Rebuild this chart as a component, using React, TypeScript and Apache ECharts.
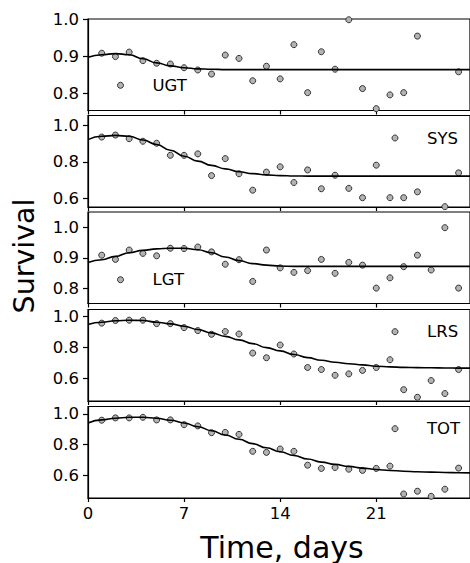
import React, { useEffect, useRef } from "react";
import * as echarts from "echarts";

// Observation days
const days = [1, 2, 3, 4, 5, 6, 7, 8, 9, 10, 11, 12, 13, 14, 15, 16, 17, 18, 19, 20, 21, 22, 23, 24, 25, 26, 27];
// Days at which the fitted curve is read
const fitDays = [0, 1, 2, 3, 4, 5, 6, 7, 8, 9, 10, 11, 12, 13, 14, 15, 16, 17, 18, 19, 20, 21, 22, 23, 24, 25, 26, 27, 28];

const ugtObs = [0.908, 0.899, 0.911, 0.888, 0.881, 0.879, 0.869, 0.863, 0.852, 0.903, 0.894, 0.834, 0.873, 0.839, 0.931, 0.802, 0.912, 0.865, 0.998, 0.813, 0.759, 0.796, 0.802, 0.954, null, null, 0.858];
const ugtFit = [0.897, 0.904, 0.907, 0.904, 0.893, 0.882, 0.874, 0.869, 0.866, 0.865, 0.864, 0.864, 0.864, 0.864, 0.864, 0.864, 0.864, 0.864, 0.864, 0.864, 0.864, 0.864, 0.864, 0.864, 0.864, 0.864, 0.864, 0.864, 0.864];

const sysObs = [0.936, 0.947, 0.927, 0.913, 0.902, 0.836, 0.836, 0.844, 0.725, 0.818, 0.735, 0.645, 0.744, 0.773, 0.687, 0.756, 0.653, 0.727, 0.655, 0.604, 0.782, 0.604, 0.604, 0.636, null, 0.555, 0.740];
const sysFit = [0.922, 0.94, 0.945, 0.94, 0.92, 0.895, 0.864, 0.831, 0.804, 0.781, 0.762, 0.746, 0.736, 0.729, 0.725, 0.723, 0.722, 0.722, 0.722, 0.722, 0.722, 0.722, 0.722, 0.722, 0.722, 0.722, 0.722, 0.722, 0.722];

const lgtObs = [0.909, 0.895, 0.926, 0.915, 0.907, 0.932, 0.931, 0.936, 0.920, 0.879, 0.894, 0.822, 0.926, 0.867, 0.852, 0.858, 0.895, 0.849, 0.885, 0.876, 0.800, 0.834, 0.871, 0.909, 0.860, 1.000, 0.800];
const lgtFit = [0.885, 0.894, 0.905, 0.917, 0.925, 0.930, 0.932, 0.932, 0.927, 0.917, 0.903, 0.891, 0.881, 0.876, 0.873, 0.872, 0.872, 0.872, 0.872, 0.872, 0.872, 0.872, 0.872, 0.872, 0.872, 0.872, 0.872, 0.872, 0.872];

const lrsObs = [0.955, 0.972, 0.974, 0.974, 0.952, 0.952, 0.926, 0.907, 0.883, 0.901, 0.885, 0.762, 0.732, 0.814, 0.756, 0.669, 0.656, 0.619, 0.628, 0.650, 0.669, 0.719, 0.526, 0.477, 0.585, 0.501, 0.656];
const lrsFit = [0.946, 0.961, 0.970, 0.974, 0.972, 0.961, 0.950, 0.935, 0.914, 0.892, 0.870, 0.847, 0.823, 0.797, 0.776, 0.753, 0.733, 0.716, 0.703, 0.693, 0.686, 0.677, 0.673, 0.670, 0.668, 0.667, 0.666, 0.665, 0.665];

const totObs = [0.959, 0.974, 0.974, 0.978, 0.961, 0.961, 0.930, 0.922, 0.878, 0.880, 0.867, 0.757, 0.750, 0.772, 0.757, 0.667, 0.646, 0.652, 0.641, 0.633, 0.646, 0.661, 0.480, 0.498, 0.465, 0.511, 0.648];
const totFit = [0.941, 0.961, 0.972, 0.978, 0.978, 0.972, 0.959, 0.941, 0.917, 0.891, 0.863, 0.835, 0.807, 0.780, 0.754, 0.730, 0.707, 0.687, 0.672, 0.659, 0.648, 0.639, 0.633, 0.628, 0.624, 0.622, 0.620, 0.618, 0.617];

const panelNames = ["UGT", "SYS", "LGT", "LRS", "TOT"];
const panelObs = [ugtObs, sysObs, lgtObs, lrsObs, totObs];
const panelFit = [ugtFit, sysFit, lgtFit, lrsFit, totFit];

const xTicks = [0, 7, 14, 21];
const yTicks = [
  [0.8, 0.9, 1.0],
  [0.6, 0.8, 1.0],
  [0.8, 0.9, 1.0],
  [0.6, 0.8, 1.0],
  [0.6, 0.8, 1.0],
];
const yMins = [0.754, 0.553, 0.749, 0.453, 0.454];
const yMaxs = [1.0, 1.054, 1.052, 1.043, 1.048];
const xMin = 0;
const xMax = 27.83;

const xTitle = "Time, days";
const yTitle = "Survival";

export default function App() {
  const ref = useRef<HTMLDivElement>(null);

  useEffect(() => {
    if (!ref.current) return;
    const chart = echarts.init(ref.current, null, { renderer: "svg" });
    const font = "DejaVu Sans";
    const gridTops = [19, 115.5, 212, 309.5, 406.5];
    const gridHeight = 91.5;
    const legendPos = [
      { left: 117, top: 75.3 },
      { left: 391.5, top: 128 },
      { left: 117, top: 269.7 },
      { left: 391.5, top: 321.7 },
      { left: 391.5, top: 418.7 },
    ];

    const grids = panelNames.map((_, i) => ({
      left: 88,
      top: gridTops[i],
      width: 384,
      height: gridHeight,
      show: true,
      borderColor: "#000",
      borderWidth: 1.2,
      backgroundColor: "transparent",
      containLabel: false,
    }));

    const xAxes = panelNames.map((_, i) => ({
      type: "value",
      gridIndex: i,
      min: xMin,
      max: xMax,
      splitLine: { show: false },
      axisLine: { show: true, onZero: false, lineStyle: { color: "#000", width: 1.2 } },
      axisTick: { show: true, customValues: xTicks, length: 4, lineStyle: { color: "#000", width: 1.2 } },
      axisLabel: {
        show: i === panelNames.length - 1,
        customValues: xTicks,
        fontSize: 16.5,
        fontFamily: font,
        color: "#000",
        margin: 7,
        formatter: (v: number) => String(v),
      },
    }));

    const yAxes = panelNames.map((_, i) => ({
      type: "value",
      gridIndex: i,
      min: yMins[i],
      max: yMaxs[i],
      splitLine: { show: false },
      axisLine: { show: true, onZero: false, lineStyle: { color: "#000", width: 1.2 } },
      axisTick: { show: true, customValues: yTicks[i], length: 5, lineStyle: { color: "#000", width: 1.2 } },
      axisLabel: {
        customValues: yTicks[i],
        fontSize: 16.5,
        fontFamily: font,
        color: "#000",
        margin: 9,
        formatter: (v: number) => v.toFixed(1),
      },
    }));

    const series: any[] = [];
    panelNames.forEach((name, i) => {
      series.push({
        name: name + " fit",
        type: "line",
        xAxisIndex: i,
        yAxisIndex: i,
        data: fitDays.map((d, k) => [d, panelFit[i][k]]),
        smooth: true,
        smoothMonotone: "x",
        showSymbol: false,
        lineStyle: { color: "#000", width: 1.6 },
        itemStyle: { color: "#000" },
        z: 3,
      });
      series.push({
        name,
        type: "scatter",
        xAxisIndex: i,
        yAxisIndex: i,
        data: days
          .map((d, k) => [d, panelObs[i][k]])
          .filter((p) => p[1] !== null),
        symbol: "circle",
        symbolSize: 6,
        itemStyle: { color: "#b3b3b3", borderColor: "#333", borderWidth: 1, opacity: 1 },
        z: 2,
      });
    });

    const legends = panelNames.map((name, i) => ({
      data: [name],
      left: legendPos[i].left,
      top: legendPos[i].top,
      padding: 0,
      icon: "circle",
      itemWidth: 6,
      itemHeight: 6,
      selectedMode: false,
      itemStyle: { color: "#b3b3b3", borderColor: "#333", borderWidth: 1 },
      textStyle: {
        fontSize: 16.5,
        fontFamily: font,
        color: "#000",
        lineHeight: 20,
        padding: [0, 0, 0, 24],
      },
    }));

    chart.setOption({
      animation: false,
      backgroundColor: "#fff",
      grid: grids,
      xAxis: xAxes,
      yAxis: yAxes,
      legend: legends,
      series,
      graphic: [
        {
          type: "text",
          x: 282,
          y: 547,
          style: {
            text: xTitle,
            fontSize: 30,
            fontFamily: font,
            fill: "#000",
            textAlign: "center",
            textVerticalAlign: "middle",
          },
        },
        {
          type: "text",
          x: 24,
          y: 256,
          rotation: Math.PI / 2,
          style: {
            text: yTitle,
            fontSize: 28.5,
            fontFamily: font,
            fill: "#000",
            textAlign: "center",
            textVerticalAlign: "middle",
          },
        },
      ],
    });

    return () => chart.dispose();
  }, []);

  return (
    <div
      ref={ref}
      style={{ position: "fixed", left: 0, top: 0, width: 470, height: 563 }}
    />
  );
}
